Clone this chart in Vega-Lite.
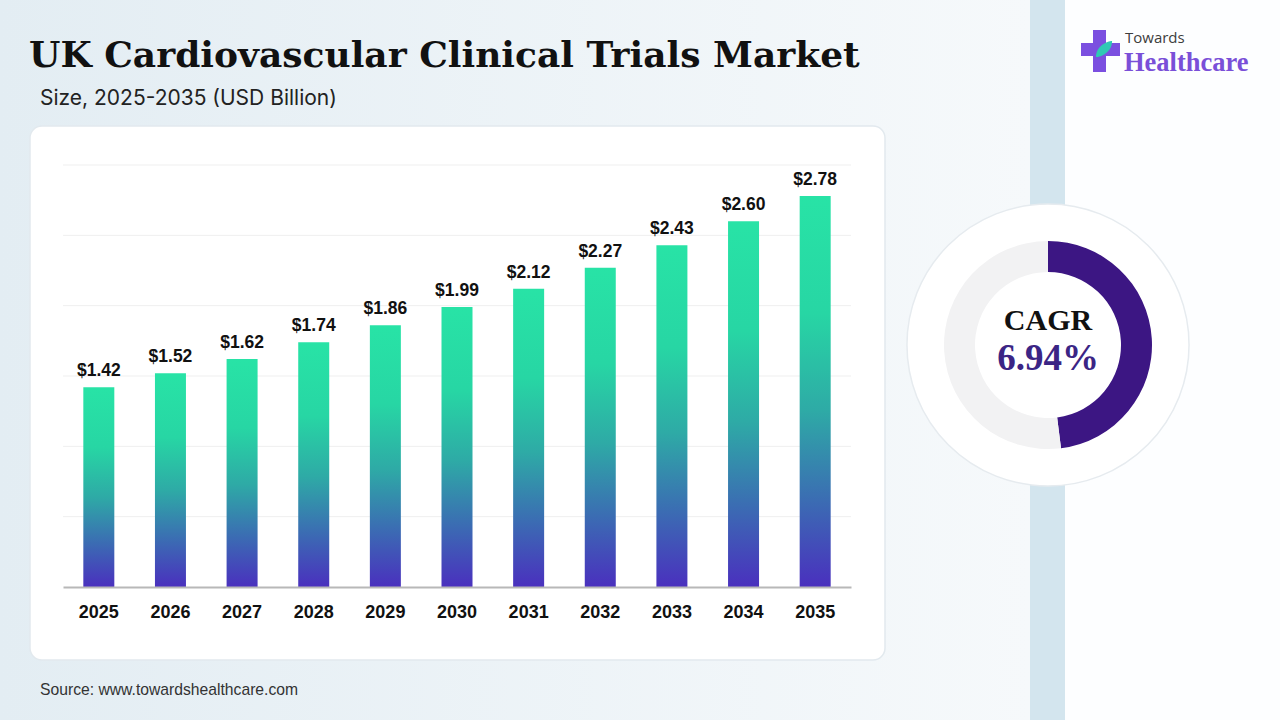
{
  "$schema": "https://vega.github.io/schema/vega-lite/v6.json",
  "width": 1280,
  "height": 720,
  "autosize": {"type": "none"},
  "padding": 0,
  "background": "#eef4f8",
  "config": {"view": {"stroke": null}},
  "datasets": {
    "market": [
      {"year": "2025", "value": 1.42},
      {"year": "2026", "value": 1.52},
      {"year": "2027", "value": 1.62},
      {"year": "2028", "value": 1.74},
      {"year": "2029", "value": 1.86},
      {"year": "2030", "value": 1.99},
      {"year": "2031", "value": 2.12},
      {"year": "2032", "value": 2.27},
      {"year": "2033", "value": 2.43},
      {"year": "2034", "value": 2.60},
      {"year": "2035", "value": 2.78}
    ],
    "gridlines": [
      {"from": "2025", "to": "2035", "value": 0.5},
      {"from": "2025", "to": "2035", "value": 1},
      {"from": "2025", "to": "2035", "value": 1.5},
      {"from": "2025", "to": "2035", "value": 2},
      {"from": "2025", "to": "2035", "value": 2.5},
      {"from": "2025", "to": "2035", "value": 3}
    ],
    "cagr": [
      {"part": "cagr", "share": 48, "rank": 1},
      {"part": "rest", "share": 52, "rank": 2}
    ],
    "one": [{"share": 100}]
  },
  "layer": [
    {
      "data": {"name": "one"},
      "layer": [
        {
          "mark": {"type": "rect", "color": {"gradient": "linear", "x1": 0, "y1": 0, "x2": 1, "y2": 0, "stops": [{"offset": 0, "color": "#e3edf3"}, {"offset": 1, "color": "#f6f9fb"}]}},
          "encoding": {
            "x": {"datum": 0, "type": "quantitative", "scale": {"domain": [0, 1280], "range": [0, 1280], "nice": false, "zero": false}, "axis": null},
            "x2": {"datum": 1030},
            "y": {"datum": 0, "type": "quantitative", "scale": {"domain": [0, 720], "range": [0, 720], "nice": false, "zero": false}, "axis": null},
            "y2": {"datum": 720}
          }
        },
        {
          "mark": {"type": "rect", "color": "#fdfeff"},
          "encoding": {
            "x": {"datum": 1065, "type": "quantitative", "scale": {"domain": [0, 1280], "range": [0, 1280], "nice": false, "zero": false}, "axis": null},
            "x2": {"datum": 1280},
            "y": {"datum": 0, "type": "quantitative", "scale": {"domain": [0, 720], "range": [0, 720], "nice": false, "zero": false}, "axis": null},
            "y2": {"datum": 720}
          }
        },
        {
          "mark": {"type": "rect", "color": "#d3e5ee"},
          "encoding": {
            "x": {"datum": 1030, "type": "quantitative", "scale": {"domain": [0, 1280], "range": [0, 1280], "nice": false, "zero": false}, "axis": null},
            "x2": {"datum": 1065},
            "y": {"datum": 0, "type": "quantitative", "scale": {"domain": [0, 720], "range": [0, 720], "nice": false, "zero": false}, "axis": null},
            "y2": {"datum": 720}
          }
        },
        {
          "mark": {"type": "rect", "color": "#ffffff", "cornerRadius": 12, "stroke": "#e2e9ee", "strokeWidth": 1.5},
          "encoding": {
            "x": {"datum": 30, "type": "quantitative", "scale": {"domain": [0, 1280], "range": [0, 1280], "nice": false, "zero": false}, "axis": null},
            "x2": {"datum": 885},
            "y": {"datum": 126, "type": "quantitative", "scale": {"domain": [0, 720], "range": [0, 720], "nice": false, "zero": false}, "axis": null},
            "y2": {"datum": 660}
          }
        },
        {
          "mark": {"type": "arc", "outerRadius": 141, "innerRadius": 0, "color": "#ffffff", "stroke": "#e6ebef", "strokeWidth": 1.5},
          "encoding": {
            "theta": {"field": "share", "type": "quantitative"},
            "x": {"datum": 1048, "type": "quantitative", "scale": {"domain": [0, 1280], "range": [0, 1280], "nice": false, "zero": false}, "axis": null},
            "y": {"datum": 345, "type": "quantitative", "scale": {"domain": [0, 720], "range": [0, 720], "nice": false, "zero": false}, "axis": null}
          }
        },
        {
          "data": {"name": "cagr"},
          "mark": {"type": "arc", "outerRadius": 104, "innerRadius": 73},
          "encoding": {
            "theta": {"field": "share", "type": "quantitative"},
            "order": {"field": "rank"},
            "color": {"field": "part", "type": "nominal", "scale": {"domain": ["cagr", "rest"], "range": ["#3c1683", "#f2f2f3"]}, "legend": null},
            "x": {"datum": 1048, "type": "quantitative", "scale": {"domain": [0, 1280], "range": [0, 1280], "nice": false, "zero": false}, "axis": null},
            "y": {"datum": 345, "type": "quantitative", "scale": {"domain": [0, 720], "range": [0, 720], "nice": false, "zero": false}, "axis": null}
          }
        },
        {
          "mark": {"type": "text", "text": "CAGR", "font": "Liberation Serif", "fontWeight": "bold", "fontSize": 30, "color": "#111111", "align": "center", "baseline": "alphabetic"},
          "encoding": {
            "x": {"datum": 1048, "type": "quantitative", "scale": {"domain": [0, 1280], "range": [0, 1280], "nice": false, "zero": false}, "axis": null},
            "y": {"datum": 330, "type": "quantitative", "scale": {"domain": [0, 720], "range": [0, 720], "nice": false, "zero": false}, "axis": null}
          }
        },
        {
          "mark": {"type": "text", "text": "6.94%", "font": "Liberation Serif", "fontWeight": "bold", "fontSize": 37, "color": "#3b2585", "align": "center", "baseline": "alphabetic"},
          "encoding": {
            "x": {"datum": 1048, "type": "quantitative", "scale": {"domain": [0, 1280], "range": [0, 1280], "nice": false, "zero": false}, "axis": null},
            "y": {"datum": 370, "type": "quantitative", "scale": {"domain": [0, 720], "range": [0, 720], "nice": false, "zero": false}, "axis": null}
          }
        },
        {
          "mark": {"type": "text", "text": "UK Cardiovascular Clinical Trials Market", "font": "DejaVu Serif", "fontWeight": "bold", "fontSize": 36, "color": "#111111", "align": "left", "baseline": "alphabetic"},
          "encoding": {
            "x": {"datum": 29, "type": "quantitative", "scale": {"domain": [0, 1280], "range": [0, 1280], "nice": false, "zero": false}, "axis": null},
            "y": {"datum": 67, "type": "quantitative", "scale": {"domain": [0, 720], "range": [0, 720], "nice": false, "zero": false}, "axis": null}
          }
        },
        {
          "mark": {"type": "text", "text": "Size, 2025-2035 (USD Billion)", "font": "Inter", "fontSize": 21, "color": "#222222", "align": "left", "baseline": "alphabetic"},
          "encoding": {
            "x": {"datum": 40, "type": "quantitative", "scale": {"domain": [0, 1280], "range": [0, 1280], "nice": false, "zero": false}, "axis": null},
            "y": {"datum": 105, "type": "quantitative", "scale": {"domain": [0, 720], "range": [0, 720], "nice": false, "zero": false}, "axis": null}
          }
        },
        {
          "mark": {"type": "text", "text": "Source: www.towardshealthcare.com", "font": "Liberation Sans", "fontSize": 15.7, "color": "#333333", "align": "left", "baseline": "alphabetic"},
          "encoding": {
            "x": {"datum": 40, "type": "quantitative", "scale": {"domain": [0, 1280], "range": [0, 1280], "nice": false, "zero": false}, "axis": null},
            "y": {"datum": 695, "type": "quantitative", "scale": {"domain": [0, 720], "range": [0, 720], "nice": false, "zero": false}, "axis": null}
          }
        },
        {
          "mark": {"type": "rect", "color": "#7b4fe0"},
          "encoding": {
            "x": {"datum": 1093, "type": "quantitative", "scale": {"domain": [0, 1280], "range": [0, 1280], "nice": false, "zero": false}, "axis": null},
            "x2": {"datum": 1106},
            "y": {"datum": 30, "type": "quantitative", "scale": {"domain": [0, 720], "range": [0, 720], "nice": false, "zero": false}, "axis": null},
            "y2": {"datum": 72}
          }
        },
        {
          "mark": {"type": "rect", "color": "#7b4fe0"},
          "encoding": {
            "x": {"datum": 1081, "type": "quantitative", "scale": {"domain": [0, 1280], "range": [0, 1280], "nice": false, "zero": false}, "axis": null},
            "x2": {"datum": 1120},
            "y": {"datum": 43, "type": "quantitative", "scale": {"domain": [0, 720], "range": [0, 720], "nice": false, "zero": false}, "axis": null},
            "y2": {"datum": 56}
          }
        },
        {
          "mark": {"type": "point", "shape": "M -1 1 C -1 -0.4 0.4 -1 1 -1 C 1 0.4 -0.4 1 -1 1 Z", "size": 260, "filled": true, "color": "#2fc9b4", "opacity": 1},
          "encoding": {
            "x": {"datum": 1104, "type": "quantitative", "scale": {"domain": [0, 1280], "range": [0, 1280], "nice": false, "zero": false}, "axis": null},
            "y": {"datum": 49, "type": "quantitative", "scale": {"domain": [0, 720], "range": [0, 720], "nice": false, "zero": false}, "axis": null}
          }
        },
        {
          "mark": {"type": "text", "text": "Towards", "font": "Open Sans", "fontSize": 15, "color": "#3d3d3d", "align": "left", "baseline": "alphabetic"},
          "encoding": {
            "x": {"datum": 1125, "type": "quantitative", "scale": {"domain": [0, 1280], "range": [0, 1280], "nice": false, "zero": false}, "axis": null},
            "y": {"datum": 43, "type": "quantitative", "scale": {"domain": [0, 720], "range": [0, 720], "nice": false, "zero": false}, "axis": null}
          }
        },
        {
          "mark": {"type": "text", "text": "Healthcare", "font": "Liberation Serif", "fontWeight": "bold", "fontSize": 26.5, "color": "#7a4fd8", "align": "left", "baseline": "alphabetic"},
          "encoding": {
            "x": {"datum": 1124, "type": "quantitative", "scale": {"domain": [0, 1280], "range": [0, 1280], "nice": false, "zero": false}, "axis": null},
            "y": {"datum": 71, "type": "quantitative", "scale": {"domain": [0, 720], "range": [0, 720], "nice": false, "zero": false}, "axis": null}
          }
        }
      ]
    },
    {
      "encoding": {
        "x": {
          "field": "year",
          "type": "ordinal",
          "scale": {"range": [63, 851], "paddingInner": 0, "paddingOuter": 0},
          "axis": {"orient": "bottom", "offset": -133, "zindex": 1, "title": null, "labelAngle": 0, "labelFont": "Liberation Sans", "labelFontWeight": "bold", "labelFontSize": 18, "labelColor": "#111111", "labelPadding": 16, "ticks": false, "domainColor": "#b8b8b8", "domainWidth": 2, "grid": false}
        },
        "y": {
          "field": "value",
          "type": "quantitative",
          "scale": {"domain": [0, 3], "range": [587, 165], "nice": false},
          "axis": null
        }
      },
      "layer": [
        {
          "data": {"name": "gridlines"},
          "mark": {"type": "rule", "color": "#efefef", "strokeWidth": 1, "xOffset": -35.8, "x2Offset": 35.8},
          "encoding": {
            "x": {"field": "from", "type": "ordinal"},
            "x2": {"field": "to"}
          }
        },
        {
          "data": {"name": "market"},
          "mark": {
            "type": "bar",
            "width": 31,
            "color": {"gradient": "linear", "x1": 0, "y1": 0, "x2": 0, "y2": 1, "stops": [
              {"offset": 0, "color": "#28e3a6"},
              {"offset": 0.3, "color": "#27d6a4"},
              {"offset": 0.55, "color": "#2eaaa6"},
              {"offset": 0.78, "color": "#3b6cb3"},
              {"offset": 1, "color": "#4a30be"}
            ]}
          }
        },
        {
          "data": {"name": "market"},
          "mark": {"type": "text", "baseline": "alphabetic", "dy": -11, "font": "Liberation Sans", "fontWeight": "bold", "fontSize": 17.5, "color": "#111111"},
          "encoding": {
            "text": {"field": "value", "type": "quantitative", "format": "$.2f"}
          }
        }
      ]
    }
  ],
  "resolve": {"scale": {"x": "independent", "y": "independent", "theta": "independent", "color": "independent"}}
}
